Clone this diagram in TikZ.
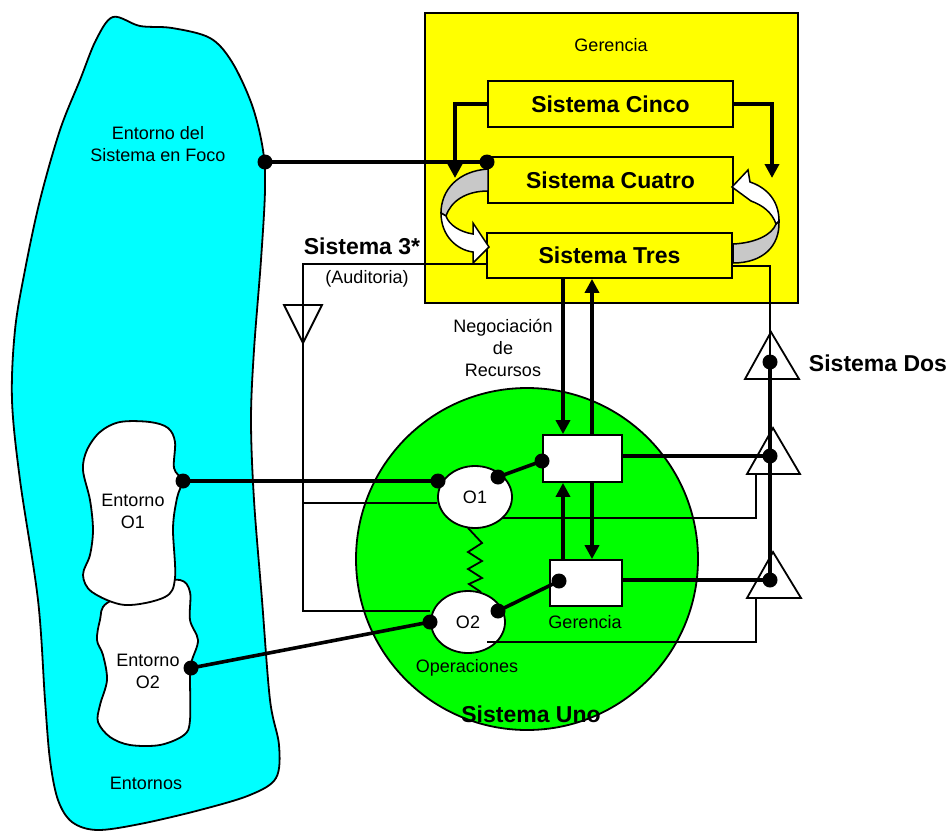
\documentclass[tikz,border=0pt]{standalone}
\usepackage{fontspec}
\setmainfont{Liberation Sans}
\usetikzlibrary{arrows.meta,shapes.geometric}
\definecolor{cyanfill}{HTML}{00FFFF}
\definecolor{yellowfill}{HTML}{FFFF00}
\definecolor{greenfill}{HTML}{00FF00}
\definecolor{bandgray}{HTML}{C8C8C8}
\begin{document}
\begin{tikzpicture}[x=1bp,y=-1bp,
  thinln/.style={line width=1.8bp},
  thickln/.style={line width=3.6bp},
  arr/.style={thickln,-{Triangle[length=14bp,width=14bp]}},
  dotc/.style={circle,fill=black,inner sep=0pt,minimum size=15bp},
  lbl/.style={font=\fontsize{18bp}{22bp}\selectfont,align=center,inner sep=0pt},
  blbl/.style={font=\fontsize{23bp}{27bp}\selectfont\bfseries,align=center,inner sep=0pt},
  sysbox/.style={draw,line width=1.8bp,fill=yellowfill,minimum width=245bp,minimum height=46bp,inner sep=0pt,
    font=\fontsize{23bp}{27bp}\selectfont\bfseries},
  mgbox/.style={draw,line width=1.8bp,fill=white,inner sep=0pt},
  opell/.style={ellipse,draw,line width=1.8bp,fill=white,minimum width=74bp,minimum height=62bp,inner sep=0pt,
    font=\fontsize{18bp}{22bp}\selectfont},
  band/.style={draw,line width=1.5bp},
  shapeln/.style={draw,line width=1.8bp},
]
\useasboundingbox (0,0) rectangle (950,832);

% yellow management frame
\path[shapeln,fill=yellowfill] (425,13) rectangle (798,303);
\node[lbl] (gerT) at (611,45) {Gerencia};

% environment (cyan)
\path[shapeln,fill=cyanfill] plot[smooth cycle,tension=0.55] coordinates {
 (113,17) (140,26) (172,28) (210,38) (232,62) (252,105) (263,150) (265,190) (261,260) (254,350)
 (251,420) (254,500) (262,600) (270,700) (279,745) (276,778) (250,795) (200,810) (140,824) (97,830)
 (72,822) (58,800) (50,760) (45,700) (38,600) (20,480) (12,400) (15,330) (25,270) (40,200) (60,130) (80,80) (96,40)};

% Entorno O2 blob
\path[shapeln,fill=white] plot[smooth cycle,tension=0.55] coordinates {
 (107,603) (150,585) (180,580) (190,592) (190,620) (198,640) (192,660) (190,672) (190,720) (184,735)
 (160,745) (130,745) (110,737) (98,722) (100,705) (107,680) (103,655) (97,640) (100,620)};
% Entorno O1 blob
\path[shapeln,fill=white] plot[smooth cycle,tension=0.55] coordinates {
 (100,432) (120,422) (150,422) (168,428) (175,442) (174,468) (182,481) (177,498) (173,528) (175,578)
 (165,597) (125,605) (92,592) (83,575) (90,555) (93,530) (90,500) (83,470) (87,450)};

\node[lbl] (focoT) at (158,144) {Entorno del\\Sistema en Foco};
\node[lbl] (e1T) at (133,511) {Entorno\\O1};
\node[lbl] (e2T) at (148,671) {Entorno\\O2};
\node[lbl] (entT) at (146,783) {Entornos};

% Sistema Uno circle
\path[shapeln,fill=greenfill] (527,559) circle[radius=171];

% system boxes
\node[sysbox] (cinco) at (610.5,104) {Sistema Cinco};
\node[sysbox] (cuatro) at (610.5,180) {Sistema Cuatro};
\node[sysbox,minimum height=45bp] (tres) at (609.5,255.5) {Sistema Tres};

% curved arrows (left: Cuatro -> Tres)
\path[band,fill=bandgray] (488,169) .. controls (458,171) and (441,190) .. (441,213)
  -- (446,216) .. controls (451,201) and (466,191) .. (488,191) -- cycle;
\path[band,fill=white] (441,213) .. controls (441,236) and (457,250) .. (473,252)
  -- (473,263) -- (489,247) -- (473,223) -- (473,234) .. controls (460,232) and (449,225) .. (446,216) -- cycle;
% right: Tres -> Cuatro
\path[band,fill=bandgray] (733,244) .. controls (755,243) and (772,235) .. (776,224)
  -- (779,221) .. controls (780,246) and (763,263) .. (733,263) -- cycle;
\path[band,fill=white] (779,221) .. controls (779,199) and (765,187) .. (750,182)
  -- (748,170) -- (732,187) -- (751,201) .. controls (762,205) and (772,212) .. (776,224) -- cycle;

% Cinco -> Cuatro arrows
\coordinate (cL) at (455,178);
\coordinate (cR) at (772,178);
\draw[arr] (cinco.west) -| (cL);
\draw[arr] (cinco.east) -| (cR);

% Sistema 3* audit channel
\coordinate (a1) at (487,264);
\coordinate (a2) at (303,264);
\coordinate (a3) at (303,611);
\coordinate (a4) at (303,503);
\node[blbl] (s3T) at (362,246) {Sistema 3*};
\node[lbl] (audT) at (367,279) {(Auditoria)};
\draw[thinln] (284,305) -- (322,305) -- (303,343) -- cycle;

% management boxes of Sistema Uno
\node[mgbox,minimum width=79bp,minimum height=47bp] (g1) at (582.5,458.5) {};
\node[mgbox,minimum width=72bp,minimum height=46bp] (g2) at (586,583) {};
\node[lbl] (g2T) at (585,622) {Gerencia};

% operations
\node[opell] (o1) at (475,497) {O1};
\node[opell] (o2) at (468,622) {O2};
\node[lbl] (opT) at (467,668) {Operaciones};
\node[blbl] (unoT) at (531,714) {Sistema Uno};

\draw[thinln] (a1) -- (a2) -- (a3) -- (o2.west |- a3);
\draw[thinln] (a4) -- (o1.west |- a4);
\draw[thinln] (468,528) -- (482,543) -- (468,552) -- (482,561) -- (468,569) -- (482,578) -- (469,584) -- (481,592);

% vertical resource arrows
\coordinate (xL) at (563,0);
\coordinate (xR) at (592,0);
\draw[arr] (tres.south -| xL) -- (g1.north -| xL);
\draw[arr] (g1.north -| xR) -- (tres.south -| xR);
\draw[arr] (g2.north -| xL) -- (g1.south -| xL);
\draw[arr] (g1.south -| xR) -- (g2.north -| xR);
\node[lbl] (negT) at (503,348) {Negociación\\de\\Recursos};

% Sistema Dos
\draw[thinln] (745,379) -- (771,332) -- (799,379) -- cycle;
\draw[thinln] (747,474) -- (773,428) -- (800,474) -- cycle;
\draw[thinln] (747,598) -- (773,552) -- (801,598) -- cycle;
\node[blbl] (s2T) at (878,363) {Sistema Dos};

% dots
\node[dotc] (dfoco) at (265,162) {};
\node[dotc] (dcuatro) at (487,162) {};
\node[dotc] (de1) at (183,481) {};
\node[dotc] (do1l) at (438,481) {};
\node[dotc] (do1r) at (498,477) {};
\node[dotc] (dg1) at (542,461) {};
\node[dotc] (de2) at (191,668) {};
\node[dotc] (do2l) at (430,622) {};
\node[dotc] (do2r) at (498,611) {};
\node[dotc] (dg2) at (559,581) {};
\node[dotc] (dt1) at (770,362) {};
\node[dotc] (dt2) at (770,456) {};
\node[dotc] (dt3) at (770,580) {};

\coordinate (b1) at (732,266);
\coordinate (b2) at (770,266);
\coordinate (c1) at (502,518);
\coordinate (c2) at (756,518);
\coordinate (c3) at (756,474);
\coordinate (e1) at (487,642);
\coordinate (e2) at (756,642);
\coordinate (e3) at (756,598);
\draw[thinln] (b1) -- (b2) -- (dt1.center);
\draw[thinln] (c1) -- (c2) -- (c3);
\draw[thinln] (e1) -- (e2) -- (e3);

% thick links
\draw[thickln] (dfoco.center) -- (dcuatro.center);
\draw[thickln] (de1.center) -- (do1l.center);
\draw[thickln] (de2.center) -- (do2l.center);
\draw[thickln] (do1r.center) -- (dg1.center);
\draw[thickln] (do2r.center) -- (dg2.center);
\draw[thickln] (g1.east |- dt2) -- (dt2.center);
\draw[thickln] (g2.east |- dt3) -- (dt3.center);
\draw[thickln] (dt1.center) -- (dt3.center);
\end{tikzpicture}
\end{document}
